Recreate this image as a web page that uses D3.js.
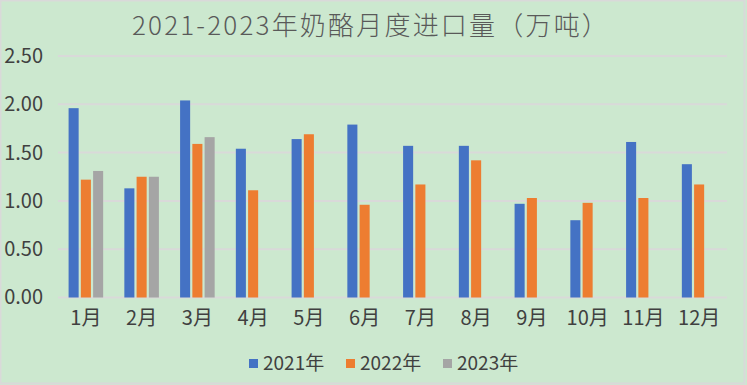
<!DOCTYPE html>
<html>
<head>
<meta charset="utf-8">
<script src="https://cdn.jsdelivr.net/npm/d3@7"></script>
<style>
  body { margin: 0; background: #fff; }
  text { font-family: "Noto Sans CJK SC", "Noto Sans", sans-serif; }
</style>
</head>
<body>
<div class="container"></div>
<script>
var months = ["1月", "2月", "3月", "4月", "5月", "6月", "7月", "8月", "9月", "10月", "11月", "12月"];
var seriesNames = ["2021年", "2022年", "2023年"];
var v2021 = [1.96, 1.13, 2.04, 1.54, 1.64, 1.79, 1.57, 1.57, 0.97, 0.80, 1.61, 1.38];
var v2022 = [1.22, 1.25, 1.59, 1.11, 1.69, 0.96, 1.17, 1.42, 1.03, 0.98, 1.03, 1.17];
var v2023 = [1.31, 1.25, 1.66, null, null, null, null, null, null, null, null, null];
var yTicks = [0, 0.5, 1, 1.5, 2, 2.5];
var colors = ["#4472C4", "#ED7D31", "#A5A5A5"];

var width = 747, height = 385;
var plot = { left: 58, right: 727, top: 56, bottom: 297.5 };

var svg = d3.select(".container")
    .append("svg")
    .attr("width", width)
    .attr("height", height);

// background + border
svg.append("rect")
    .attr("x", 0).attr("y", 0)
    .attr("width", width).attr("height", height)
    .attr("fill", "#CCE8CF");
svg.append("rect")
    .attr("x", 0.5).attr("y", 0.5)
    .attr("width", width - 3).attr("height", height - 2)
    .attr("fill", "none")
    .attr("stroke", "#D9D9D9")
    .attr("stroke-width", 2);

// title
svg.append("text")
    .attr("x", 371)
    .attr("y", 35)
    .attr("text-anchor", "middle")
    .attr("fill", "#595959")
    .style("font-size", "26px")
    .style("font-weight", 300)
    .style("letter-spacing", "2.2px")
    .text("2021-2023年奶酪月度进口量（万吨）");

var x = d3.scaleBand()
    .domain(months)
    .range([plot.left, plot.right])
    .paddingInner(0.38)
    .paddingOuter(0.19);

var xs = d3.scaleBand()
    .domain(seriesNames)
    .range([0, x.bandwidth()])
    .paddingInner(0.18);

var y = d3.scaleLinear()
    .domain([0, 2.5])
    .range([plot.bottom, plot.top]);

// gridlines
svg.append("g")
    .selectAll("line")
    .data(yTicks)
    .enter()
    .append("line")
    .attr("x1", plot.left)
    .attr("x2", plot.right)
    .attr("y1", function (d) { return y(d); })
    .attr("y2", function (d) { return y(d); })
    .attr("stroke", "#D9D9D9")
    .attr("stroke-width", 2);

// y axis labels
var yAxis = svg.append("g")
    .attr("transform", "translate(43,0)")
    .call(d3.axisLeft(y).tickValues(yTicks).tickFormat(d3.format(".2f")).tickSize(0).tickPadding(0));
yAxis.select(".domain").remove();
yAxis.selectAll("text")
    .style("font-size", "20px")
    .attr("fill", "#404040")
    .attr("font-family", null);

// bars
var rows = months.map(function (m, i) {
    return { month: m, vals: [v2021[i], v2022[i], v2023[i]] };
});

var groups = svg.append("g")
    .selectAll("g")
    .data(rows)
    .enter()
    .append("g")
    .attr("transform", function (d) { return "translate(" + x(d.month) + ",0)"; });

groups.selectAll("rect")
    .data(function (d) {
        return d.vals.map(function (v, k) { return { name: seriesNames[k], v: v, k: k }; })
            .filter(function (e) { return e.v != null; });
    })
    .enter()
    .append("rect")
    .attr("x", function (d) { return xs(d.name); })
    .attr("y", function (d) { return y(d.v); })
    .attr("width", xs.bandwidth())
    .attr("height", function (d) { return plot.bottom - y(d.v); })
    .attr("fill", function (d) { return colors[d.k]; });

// x axis labels
var xAxis = svg.append("g")
    .attr("transform", "translate(0," + (plot.bottom + 13) + ")")
    .call(d3.axisBottom(x).tickSize(0).tickPadding(0));
xAxis.select(".domain").remove();
xAxis.selectAll("text")
    .style("font-size", "20px")
    .attr("fill", "#404040")
    .attr("font-family", null);

// legend
var legendX = [249, 346, 443];
var legend = svg.append("g")
    .selectAll("g")
    .data(seriesNames)
    .enter()
    .append("g")
    .attr("transform", function (d, i) { return "translate(" + legendX[i] + ",359)"; });
legend.append("rect")
    .attr("width", 9).attr("height", 9)
    .attr("fill", function (d, i) { return colors[i]; });
legend.append("text")
    .attr("x", 14)
    .attr("y", 11)
    .attr("fill", "#404040")
    .style("font-size", "19px")
    .text(function (d) { return d; });
</script>
</body>
</html>
